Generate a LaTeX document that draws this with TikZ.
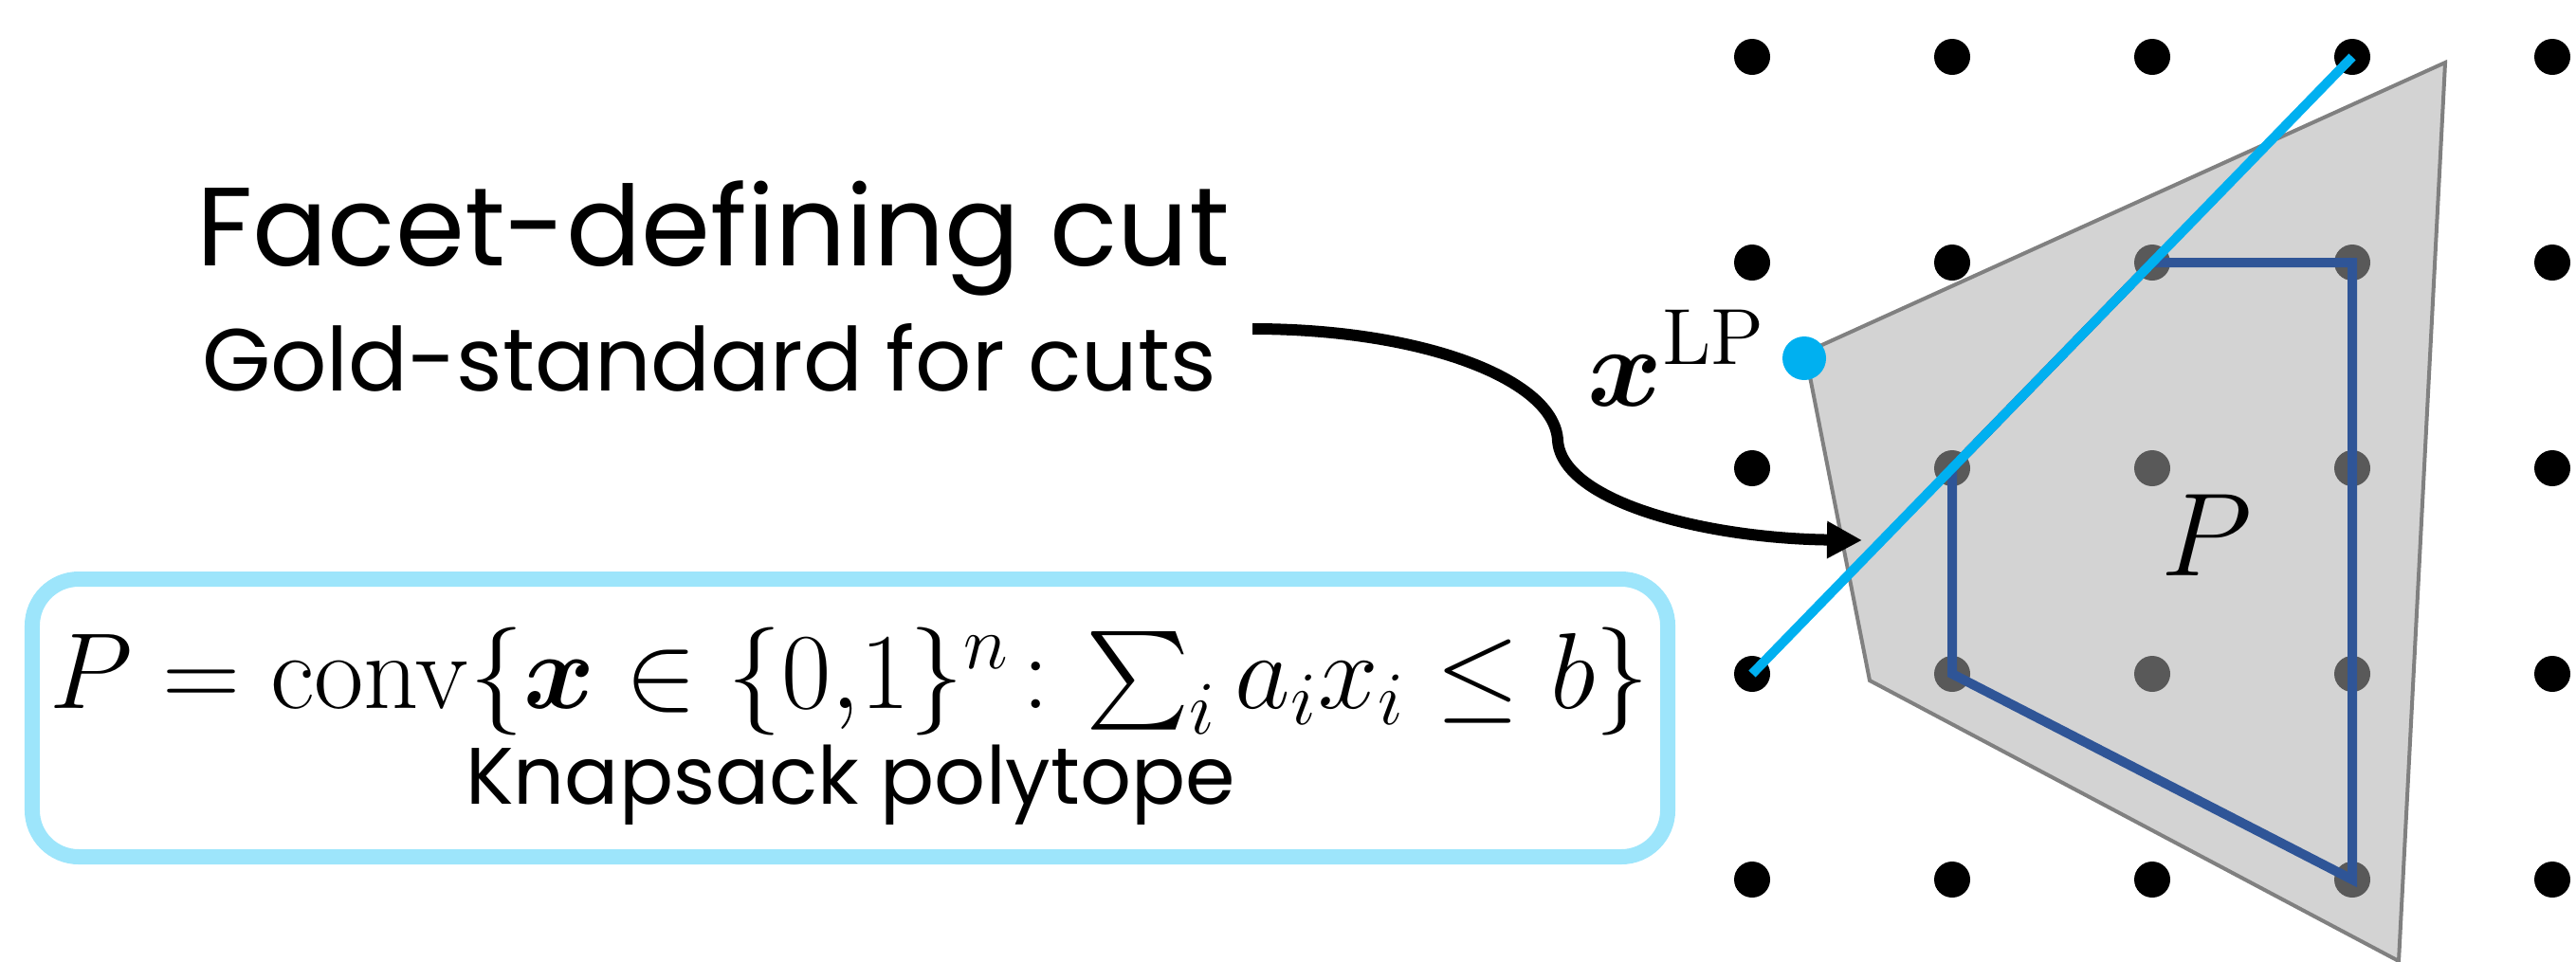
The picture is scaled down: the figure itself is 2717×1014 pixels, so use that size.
\RequirePackage{fix-cm}
\documentclass[tikz,border=0pt]{standalone}
\usepackage{amsmath,bm}
\usepackage[no-math]{fontspec}
\setmainfont{Poppins}
\usetikzlibrary{arrows.meta}
\definecolor{cutcyan}{HTML}{00B0F0}
\definecolor{hulldark}{HTML}{2F5597}
\definecolor{boxblue}{RGB}{157,229,251}
\definecolor{polyfill}{RGB}{171,171,171}
\definecolor{polyedge}{RGB}{128,128,128}
\tikzset{
  latdot/.style={circle, fill=black, inner sep=0pt, minimum size=7.6pt},
  lpdot/.style={circle, fill=cutcyan, inner sep=0pt, minimum size=9.2pt},
  polyshape/.style={fill=polyfill, fill opacity=0.525, draw=polyedge, line width=0.8pt, line join=miter},
  hullline/.style={draw=hulldark, line width=2pt, line join=miter},
  cutline/.style={draw=cutcyan, line width=2pt},
  curvearrow/.style={draw=black, line width=2.4pt, -{Triangle[length=7.4pt,width=7.4pt]}},
  knapbox/.style={draw=boxblue, line width=3.2pt, rounded corners=9.8pt, minimum width=345pt, minimum height=58.6pt, inner sep=0pt},
  txt/.style={inner sep=0pt, anchor=base}
}
\begin{document}
\begin{tikzpicture}[x=0.2pt, y=-0.2pt]
\useasboundingbox (0,0) rectangle (2717,1014);

% lattice points
\foreach \i/\xx in {0/1848,1/2059,2/2270,3/2481,4/2692}{
  \foreach \j/\yy in {0/60,1/277,2/494,3/711,4/928}{
    \node[latdot] (d-\i-\j) at (\xx,\yy) {};
  }
}

% LP relaxation polytope
\coordinate (pa) at (1904,372);
\coordinate (pb) at (2579,66);
\coordinate (pc) at (2530,1014);
\coordinate (pd) at (1972,718);
\path[polyshape] (pa) -- (pb) -- (pc) -- (pd) -- cycle;

% integer hull
\draw[hullline] (d-1-3.center) -- (d-1-2.center) -- (d-2-1.center) -- (d-3-1.center) -- (d-3-4.center) -- cycle;

% facet-defining cut
\draw[cutline] (d-3-0.center) -- (d-0-3.center);

% LP point
\node[lpdot] (xlp) at (1903,378) {};
\node[txt, anchor=base west, font=\fontsize{24}{28}\selectfont] (xlplabel) at (1673,428) {$\bm{x}^{\mathrm{LP}}$};

% P label
\node[txt, font=\fontsize{25}{30}\selectfont] (plabel) at (2327,607) {$P$};

% texts
\node[txt, font=\fontsize{23.5}{28}\selectfont] (title) at (752,280) {Facet-defining cut};
\node[txt, font=\fontsize{18.6}{22}\selectfont] (subtitle) at (748,412) {Gold-standard for cuts};

% arrow
\coordinate (astart) at (1321,347);
\coordinate (aend) at (1964,570);
\draw[curvearrow] (astart) .. controls (1500,347) and (1640,400) .. (1643,465) .. controls (1648,530) and (1800,568) .. (aend);

% knapsack box
\node[knapbox] (box) at (896.5,757.5) {};
\node[txt, font=\fontsize{22.8}{27}\selectfont] (formula) at (896,747)
  {$P = \mathrm{conv}\{\bm{x} \in \{0{,}1\}^n\colon {\textstyle\sum_i}\, a_i x_i \leq b\}$};
\node[txt, font=\fontsize{16.9}{20}\selectfont] (knap) at (897,848) {Knapsack polytope};
\end{tikzpicture}
\end{document}
